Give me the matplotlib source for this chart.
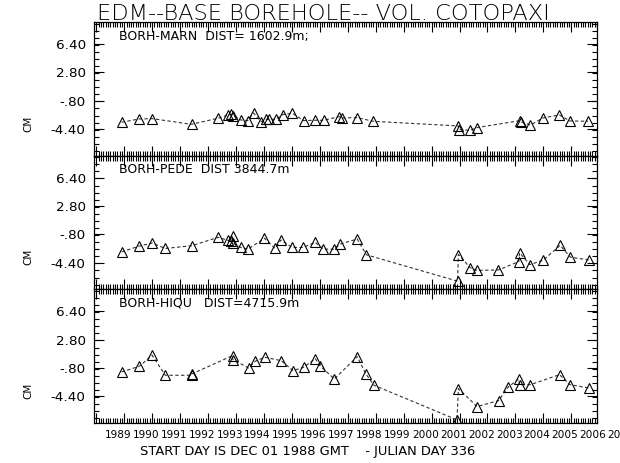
import matplotlib
matplotlib.use("Agg")
import matplotlib.pyplot as plt
from matplotlib.ticker import FixedLocator, MultipleLocator
from matplotlib.transforms import blended_transform_factory, ScaledTranslation

plt.rcParams['font.family'] = ['DejaVu Sans']

TITLE = "EDM--BASE BOREHOLE-- VOL. COTOPAXI"
FOOTER = "START DAY IS DEC 01 1988 GMT    - JULIAN DAY 336"
Y_LABEL = "CM"

# x axis: decimal years, starting Dec 01 1988
XMIN, XMAX = 1988.92, 2006.92
YMIN, YMAX = -7.8, 9.2
year_labels = list(range(1989, 2008))
ytick_vals = [6.4, 2.8, -0.8, -4.4]
ytick_labels = ["6.40", "2.80", "-.80", "-4.40"]

# BORH-MARN
marn_t = [1989.91, 1990.54, 1991.00, 1992.41, 1993.36, 1993.72, 1993.84, 1993.91,
          1994.17, 1994.42, 1994.63, 1994.90, 1995.07, 1995.18, 1995.43, 1995.67,
          1996.02, 1996.42, 1996.84, 1997.14, 1997.69, 1997.78, 1998.34, 1998.91,
          2001.96, 2001.97, 2002.38, 2002.62, 2004.17, 2004.20, 2004.54, 2004.99,
          2005.57, 2005.95, 2006.60]
marn_cm = [-3.55, -3.13, -3.09, -3.81, -3.04, -2.62, -2.54, -2.70,
           -3.26, -3.34, -2.37, -3.47, -3.17, -3.17, -3.17, -2.58,
           -2.41, -3.34, -3.30, -3.30, -2.83, -3.00, -2.96, -3.43,
           -4.02, -4.48, -4.57, -4.23, -3.34, -3.51, -3.89, -3.00,
           -2.62, -3.38, -3.43]

# BORH-PEDE
pede_t = [1989.91, 1990.54, 1991.00, 1991.47, 1992.41, 1993.36, 1993.72, 1993.84,
          1993.88, 1993.91, 1994.17, 1994.43, 1995.02, 1995.40, 1995.61, 1996.01,
          1996.40, 1996.84, 1997.13, 1997.52, 1997.73, 1998.34, 1998.67, 2001.93,
          2001.96, 2002.38, 2002.62, 2003.39, 2004.12, 2004.15, 2004.52, 2004.99,
          2005.60, 2005.97, 2006.62]
pede_cm = [-3.03, -2.30, -1.91, -2.60, -2.26, -1.19, -1.57, -1.66,
           -1.01, -1.96, -2.47, -2.69, -1.31, -2.60, -1.53, -2.47,
           -2.47, -1.83, -2.69, -2.69, -2.04, -1.40, -3.41, -6.76,
           -3.37, -5.04, -5.39, -5.34, -4.27, -3.16, -4.66, -4.10,
           -2.21, -3.71, -4.06]

# BORH-HIQU
hiqu_t = [1989.91, 1990.54, 1991.00, 1991.47, 1992.41, 1992.42, 1993.88, 1993.89,
          1994.45, 1994.69, 1995.03, 1995.62, 1996.04, 1996.42, 1996.84, 1997.00,
          1997.52, 1998.34, 1998.65, 1998.94, 2001.91, 2001.96, 2002.63, 2003.40,
          2003.73, 2004.12, 2004.15, 2004.54, 2005.58, 2005.95, 2006.62]
hiqu_cm = [-1.31, -0.59, 0.81, -1.73, -1.73, -1.56, 0.77, 0.26,
           -0.80, 0.05, 0.56, 0.13, -1.14, -0.72, 0.39, -0.50,
           -2.20, 0.64, -1.56, -3.00, -7.40, -3.43, -5.71, -4.95,
           -3.26, -2.20, -2.92, -2.92, -1.65, -2.92, -3.34]

panels = [
    ("BORH-MARN  DIST= 1602.9m;", marn_t, marn_cm),
    ("BORH-PEDE  DIST 3844.7m", pede_t, pede_cm),
    ("BORH-HIQU   DIST=4715.9m", hiqu_t, hiqu_cm),
]

W, H = 620, 463
fig = plt.figure(figsize=(W / 100, H / 100), dpi=100)
gs = fig.add_gridspec(3, 1, left=94 / W, right=597 / W, top=1 - 22 / H,
                      bottom=1 - 423 / H, hspace=0)

axes = []
for i, (label, t, cm) in enumerate(panels):
    ax = fig.add_subplot(gs[i])
    axes.append(ax)
    ax.plot(t, cm, linestyle=(0, (3, 2.2)), color="#333333", linewidth=0.8,
            marker="^", markersize=7.5, markerfacecolor="none",
            markeredgecolor="black", markeredgewidth=0.8)
    ax.set_xlim(XMIN, XMAX)
    ax.set_ylim(YMIN, YMAX)
    ax.xaxis.set_major_locator(FixedLocator([y for y in year_labels if XMIN <= y <= XMAX]))
    ax.xaxis.set_minor_locator(MultipleLocator(1 / 12))
    ax.yaxis.set_major_locator(FixedLocator(ytick_vals))
    ax.yaxis.set_minor_locator(MultipleLocator(0.9))
    ax.set_yticks(ytick_vals, ytick_labels)
    ax.tick_params(which="both", direction="in", top=True, right=True,
                   labelbottom=False, width=0.8, colors="black")
    ax.tick_params(axis="x", which="major", length=7)
    ax.tick_params(axis="x", which="minor", length=3.5)
    ax.tick_params(axis="y", which="major", length=7, pad=6, labelsize=9.7)
    ax.tick_params(axis="y", which="minor", length=3.5)
    for sp in ax.spines.values():
        sp.set_linewidth(0.9)
    ax.text(0.049, 0.895, label, transform=ax.transAxes, fontsize=9,
            ha="left", va="center")
    ax.text(-0.13, 0.24, Y_LABEL, transform=ax.transAxes, fontsize=7.5,
            rotation=90, ha="center", va="center")

# year labels along the bottom axis, set just right of each year tick
bottom_ax = axes[-1]
shift = ScaledTranslation(6 / 72, -5 / 72, fig.dpi_scale_trans)
trans = blended_transform_factory(bottom_ax.transData, bottom_ax.transAxes) + shift
for yr in year_labels:
    bottom_ax.text(yr, 0, str(yr), transform=trans, fontsize=7.6,
                   ha="left", va="top", clip_on=False)

fig.text(97 / W, 1 - 20 / H, TITLE, fontsize=16.2, ha="left", va="baseline",
         family=["Liberation Sans Narrow", "DejaVu Sans"], fontweight="light")
fig.text(140 / W, 1 - 452 / H, FOOTER, fontsize=9.4, ha="left", va="center")

fig.savefig("out.png", dpi=100)
